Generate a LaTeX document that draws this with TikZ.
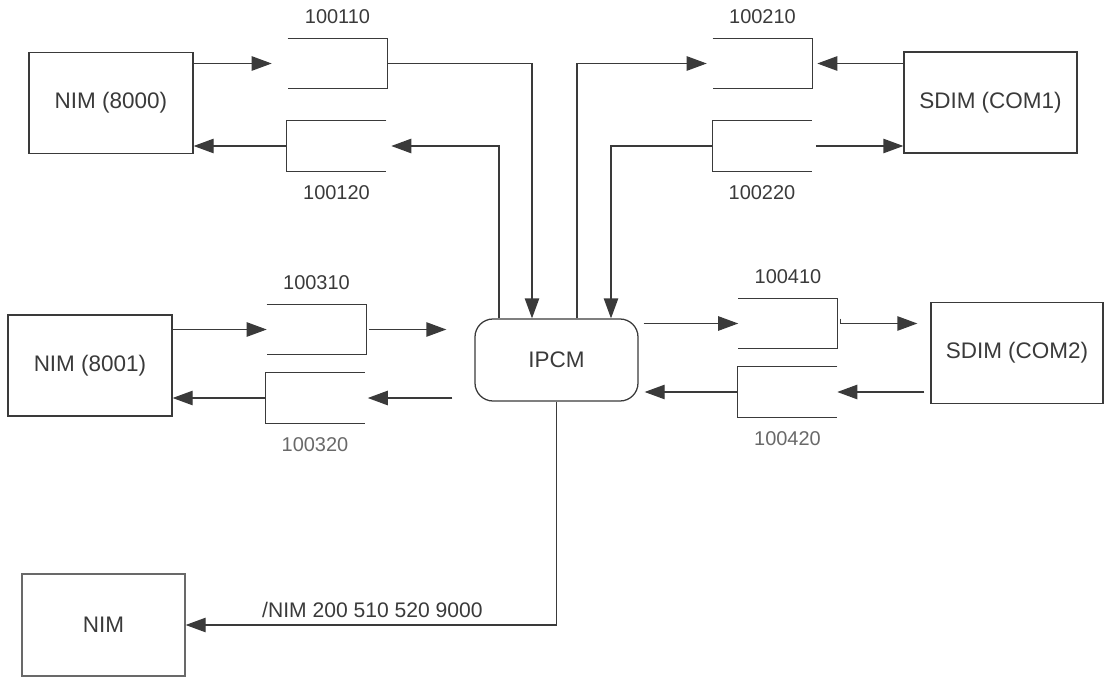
\documentclass[tikz,border=0pt]{standalone}
\usepackage{fontspec}
\setmainfont{Liberation Sans}
\usetikzlibrary{arrows.meta,positioning}
\definecolor{ink}{RGB}{58,58,58}
\definecolor{inklt}{RGB}{105,105,105}

\begin{document}
\begin{tikzpicture}[
  font=\fontsize{16}{19}\selectfont, >={Triangle[length=5mm, width=3.6mm]},
  unit/.style={draw=ink, line width=0.9pt, inner sep=0pt, text=ink,
    minimum width=4.1cm, minimum height=2.52cm},
  hub/.style={draw=ink, line width=0.9pt, rounded corners=4.5mm, text=ink,
    minimum width=4.075cm, minimum height=2.05cm},
  buf/.style={inner sep=0pt, minimum width=2.475cm, minimum height=1.25cm},
  side/.style={draw=ink, line width=0.9pt},
  arr/.style={->, draw=ink, line width=0.9pt},
  num/.style={font=\fontsize{14.2}{17}\selectfont, inner sep=0pt, text=#1},
]
\useasboundingbox (0,0) rectangle (27.675,-16.975);
% columns: risers at the IPCM top
\def\ca{12.475}\def\cb{13.3}\def\cc{14.425}\def\cd{15.275}
% modules
\node[unit] (nima) at (2.775,-2.575) {NIM (8000)};
\node[unit, minimum width=4.325cm] (sdima) at (24.7625,-2.5625) {SDIM (COM1)};
\node[unit] (nimb) at (2.25,-9.1375) {NIM (8001)};
\node[unit, minimum width=4.3cm] (sdimb) at (25.425,-8.825) {SDIM (COM2)};
\node[unit, draw=inklt, minimum width=4.075cm, minimum height=2.55cm]
  (nimc) at (2.5875,-15.625) {NIM};
\node[hub] (ipcm) at (13.9125,-9.0) {IPCM};
% buffers open to the left, number above
\foreach \n/\x/\y/\t in {b110/8.4375/-1.5875/100110, b210/19.0625/-1.5875/100210,
    b310/7.9125/-8.2375/100310, b410/19.7/-8.0875/100410} {
  \node[buf] (\n) at (\x,\y) {};
  \draw[side] (\n.north west) -- (\n.north east) -- (\n.south east)
    -- (\n.south west);
  \node[num=ink, above=3.6mm of \n] {\t};
}
% buffers open to the right, number below
\foreach \n/\x/\y/\t/\c in {b120/8.4125/-3.65/100120/ink,
    b220/19.05/-3.65/100220/ink, b320/7.875/-9.95/100320/inklt,
    b420/19.6875/-9.8/100420/inklt} {
  \node[buf] (\n) at (\x,\y) {};
  \draw[side] (\n.north east) -- (\n.north west) -- (\n.south west)
    -- (\n.south east);
  \node[num=\c, below=3.6mm of \n] {\t};
}
% NIM (8000)
\draw[arr, shorten >=4mm] (nima.east |- b110.west) -- (b110.west);
\draw[arr] (b110.east) -| (\cb,0 |- ipcm.north);
\draw[arr, shorten >=1.25mm] (\ca,0 |- ipcm.north) |- (b120.east);
\draw[arr] (b120.west) -- (nima.east |- b120.west);
% SDIM (COM1)
\draw[arr, shorten >=1.5mm] (\cc,0 |- ipcm.north) |- (b210.west);
\draw[arr, shorten >=1.25mm] (sdima.west |- b210.east) -- (b210.east);
\draw[arr] (b220.west) -| (\cd,0 |- ipcm.north);
\draw[arr, shorten <=1mm] (b220.east) -- (sdima.west |- b220.east);
% NIM (8001)
\draw[arr] (nimb.east |- b310.west) -- (b310.west);
\draw[arr, shorten <=0.75mm, shorten >=7mm] (b310.east) -- (ipcm.west |- b310.east);
\draw[arr] (b320.west) -- (nimb.east |- b320.west);
\draw[arr, shorten <=5.5mm, shorten >=0.75mm] (ipcm.west |- b320.east) -- (b320.east);
% SDIM (COM2)
\draw[arr, shorten <=1.25mm] (ipcm.east |- b410.west) -- (b410.west);
\draw[arr, shorten >=3.25mm] ([xshift=0.75mm, yshift=1.25mm]b410.east)
  -- ++(0,-1.25mm) -- (sdimb.west |- b410.east);
\draw[arr, shorten <=1.5mm] (sdimb.west |- b420.east) -- (b420.east);
\draw[arr, shorten >=1.5mm] (b420.west) -- (ipcm.east |- b420.west);
% NIM
\draw[arr] (ipcm.south) |- (nimc.east);
\node[font=\fontsize{15}{18}\selectfont, text=ink] (cmd) at (9.31,-15.25)
  {/NIM 200 510 520 9000};
\end{tikzpicture}
\end{document}
